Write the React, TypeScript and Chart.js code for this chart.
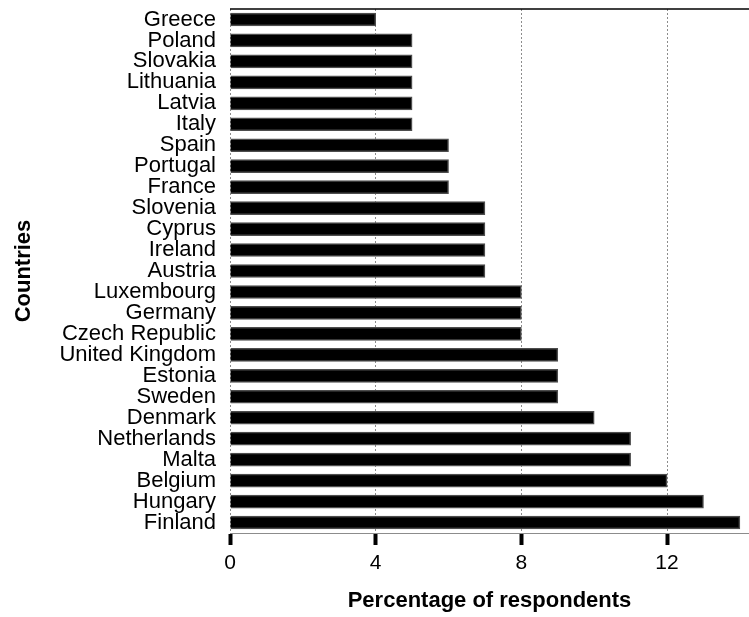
import React, { useEffect, useRef } from "react";
import { Chart, registerables } from "chart.js";

Chart.register(...registerables);

const countries = [
  "Greece", "Poland", "Slovakia", "Lithuania", "Latvia", "Italy", "Spain",
  "Portugal", "France", "Slovenia", "Cyprus", "Ireland", "Austria",
  "Luxembourg", "Germany", "Czech Republic", "United Kingdom", "Estonia",
  "Sweden", "Denmark", "Netherlands", "Malta", "Belgium", "Hungary", "Finland",
];
const percentages = [
  4, 5, 5, 5, 5, 5, 6, 6, 6, 7, 7, 7, 7, 8, 8, 8, 9, 9, 9, 10, 11, 11, 12, 13, 14,
];
const xTicks = [0, 4, 8, 12];
const xTitle = "Percentage of respondents";
const yTitle = "Countries";

const FONT = "'Liberation Sans', Arial, Helvetica, sans-serif";

const topLine = {
  id: "topLine",
  afterDraw(chart: any) {
    const { ctx, chartArea } = chart;
    ctx.save();
    ctx.strokeStyle = "#000";
    ctx.lineWidth = 1.5;
    ctx.beginPath();
    ctx.moveTo(chartArea.left, chartArea.top);
    ctx.lineTo(chartArea.right, chartArea.top);
    ctx.stroke();
    ctx.restore();
  },
};

export default function App() {
  const ref = useRef<HTMLCanvasElement>(null);
  useEffect(() => {
    document.body.style.margin = "0";
    document.body.style.overflow = "hidden";
    const chart = new Chart(ref.current!, {
      type: "bar",
      data: {
        labels: countries,
        datasets: [
          {
            data: percentages,
            backgroundColor: "#000",
            borderColor: "#4d4d4d",
            borderWidth: 1.5,
            barThickness: 13,
          },
        ],
      },
      plugins: [topLine],
      options: {
        indexAxis: "y",
        responsive: false,
        animation: false,
        layout: { padding: { top: 9, left: 0, right: 0, bottom: 0 } },
        plugins: { legend: { display: false }, tooltip: { enabled: false } },
        scales: {
          x: {
            min: 0,
            max: 14.25,
            afterBuildTicks: (scale: any) => {
              scale.ticks = xTicks.map((v) => ({ value: v }));
            },
            afterFit: (scale: any) => {
              scale.height = 84;
              scale.paddingLeft = 0;
              scale.paddingRight = 0;
            },
            grid: {
              color: "#8c8c8c",
              lineWidth: 1,
              tickColor: "#000",
              tickWidth: 4,
              tickLength: 12,
              tickBorderDash: [],
            },
            border: { display: true, color: "#8c8c8c", width: 1, dash: [2, 2] },
            ticks: {
              color: "#000",
              padding: 6,
              font: { family: FONT, size: 21 },
            },
            title: {
              display: true,
              text: xTitle,
              color: "#000",
              font: { family: FONT, size: 22, weight: "bold" },
              padding: { top: 0, bottom: 3 },
            },
          },
          y: {
            afterFit: (scale: any) => {
              scale.width = 230;
              scale.paddingTop = 0;
              scale.paddingBottom = 0;
            },
            grid: { display: false, drawTicks: false },
            border: { display: false },
            ticks: {
              color: "#000",
              padding: 14,
              autoSkip: false,
              font: { family: FONT, size: 22 },
            },
            title: {
              display: true,
              text: yTitle,
              color: "#000",
              font: { family: FONT, size: 22, weight: "bold" },
              padding: { top: 11, bottom: 0 },
            },
          },
        },
      },
    });
    return () => chart.destroy();
  }, []);
  return (
    <div style={{ width: 749, height: 617 }}>
      <canvas ref={ref} width={749} height={617} style={{ display: "block" }} />
    </div>
  );
}
